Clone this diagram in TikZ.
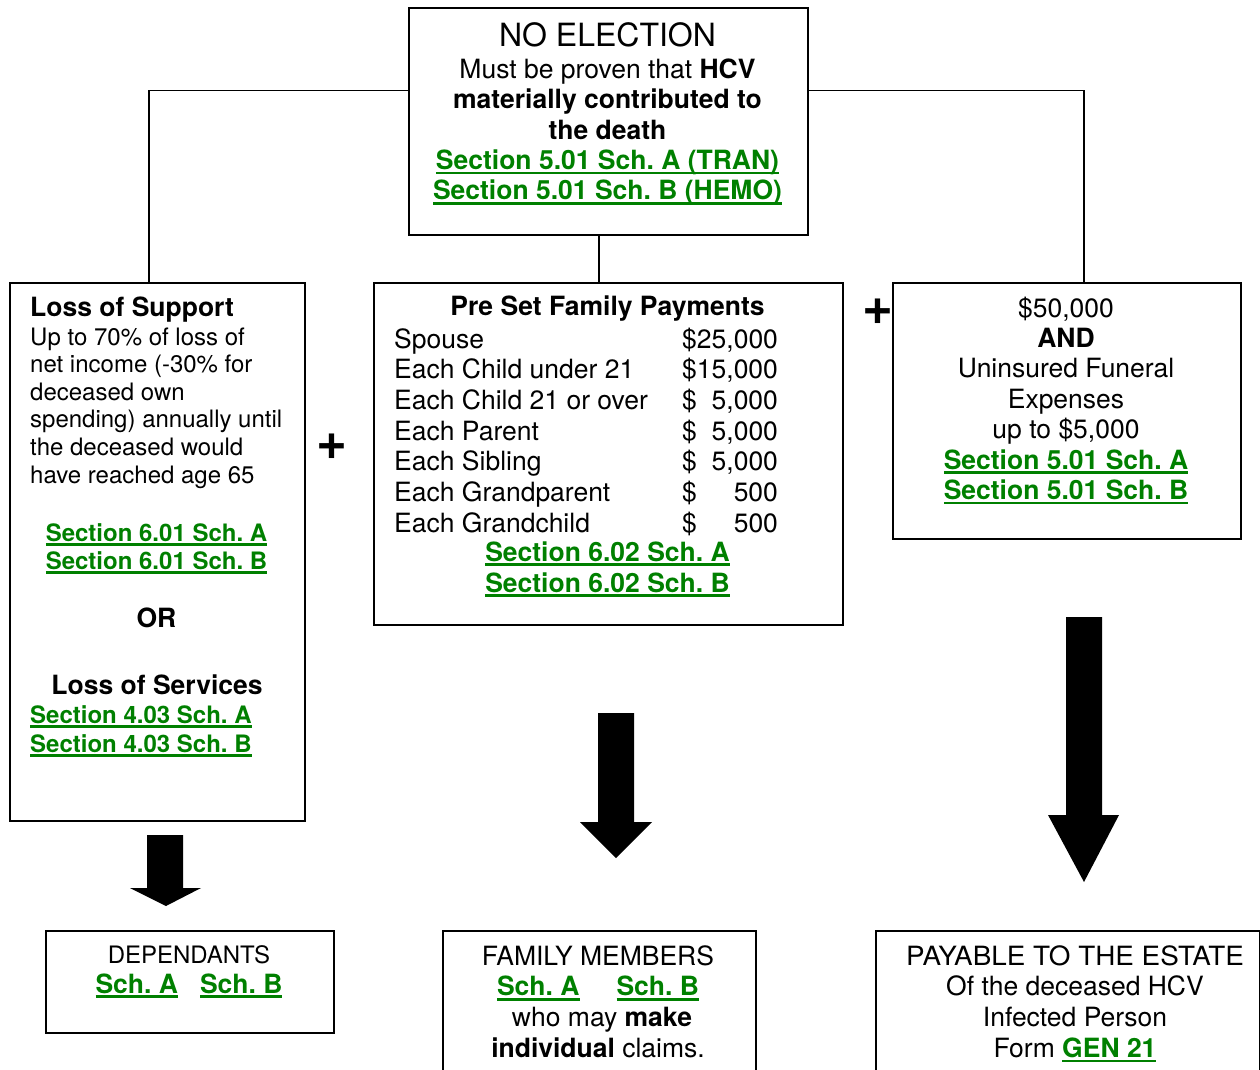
\documentclass[tikz,border=0pt]{standalone}
\usepackage{fontspec}
\setmainfont{TeX Gyre Heros}
\usepackage{xcolor}
\usepackage{graphicx}
\frenchspacing
\definecolor{lgreen}{RGB}{0,128,0}
\newcommand\grn[1]{{\color{lgreen}\bfseries\setbox0=\hbox{#1}\rlap{\rule[-5pt]{\wd0}{2.6pt}}\box0}}
\newcommand\fs[2]{\fontsize{#1}{#2}\selectfont}
\begin{document}
\begin{tikzpicture}[x=1pt,y=-1pt,
  box/.style={draw,line width=1.6pt,inner sep=0pt,anchor=north west},
  txt/.style={inner sep=0pt,anchor=base},
  txtl/.style={inner sep=0pt,anchor=base west},
  plussign/.style={inner sep=0pt,font=\fs{53}{53}\bfseries},
  conn/.style={line width=1.4pt},
  blockarrow/.style={fill=black}]
\useasboundingbox (0,0) rectangle (1260,1070);
% boxes
\node[box,minimum width=399,minimum height=227] (top) at (408,7) {};
\node[box,minimum width=295,minimum height=538] (loss) at (9,282) {};
\node[box,minimum width=469,minimum height=342] (pre) at (373,282) {};
\node[box,minimum width=348,minimum height=256] (fun) at (892,282) {};
\node[box,minimum width=288,minimum height=102] (dep) at (45,930) {};
\node[box,minimum width=313,minimum height=150] (fam) at (442,930) {};
\node[box,minimum width=384,minimum height=150] (est) at (875,930) {};
% top text
\node[txt,font=\fs{32}{36}] (t0) at (607.5,47) {NO ELECTION};
\node[txt] (t1) at (607.5,78.5) {\fs{26.5}{30.3}\begin{tabular}[t]{@{}c@{}}Must be proven that \textbf{HCV}\\ \textbf{materially contributed to}\\ \textbf{the death}\\ \grn{Section 5.01 Sch. A (TRAN)}\\ \grn{Section 5.01 Sch. B (HEMO)}\end{tabular}};
% left text
\node[txtl,font=\fs{26.5}{30}\bfseries] (l0) at (30,316) {Loss of Support};
\node[txtl] (l1) at (30,345) {\fs{24}{27.6}\begin{tabular}[t]{@{}l@{}}Up to 70\% of loss of\\ net income (-30\% for\\ deceased own\\ spending) annually until\\ the deceased would\\ have reached age 65\end{tabular}};
\node[txt] (l2) at (156.5,541) {\fs{24}{28}\begin{tabular}[t]{@{}c@{}}\grn{Section 6.01 Sch. A}\\ \grn{Section 6.01 Sch. B}\end{tabular}};
\node[txt,font=\fs{26.5}{30}\bfseries] (l3) at (156.5,627) {OR};
\node[txt,font=\fs{26.5}{30}\bfseries] (l4) at (157,694) {Loss of Services};
\node[txtl] (l5) at (30,723) {\fs{24}{29}\begin{tabular}[t]{@{}l@{}}\grn{Section 4.03 Sch. A}\\ \grn{Section 4.03 Sch. B}\end{tabular}};
% middle text
\node[txt,font=\fs{26.5}{30}\bfseries] (m0) at (607.5,315) {Pre Set Family Payments};
\node[txtl] (m1) at (394,348) {\fs{26.5}{30.7}\begin{tabular}[t]{@{}l@{}l@{}r@{}}\makebox[288pt][l]{Spouse} & \$ & 25,000\\ Each Child under 21 & \$ & 15,000\\ Each Child 21 or over & \$ & 5,000\\ Each Parent & \$ & 5,000\\ Each Sibling & \$ & 5,000\\ Each Grandparent & \$ & 500\\ Each Grandchild & \$ & 500\end{tabular}};
\node[txt] (m2) at (607.5,561) {\fs{26.5}{31}\begin{tabular}[t]{@{}c@{}}\grn{Section 6.02 Sch. A}\\ \grn{Section 6.02 Sch. B}\end{tabular}};
% right text
\node[txt] (r1) at (1066,317) {\fs{26.5}{30.4}\begin{tabular}[t]{@{}c@{}}\$50,000\\ \textbf{AND}\\ Uninsured Funeral\\ Expenses\\ up to \$5,000\\ \grn{Section 5.01 Sch. A}\\ \grn{Section 5.01 Sch. B}\end{tabular}};
% bottom text
\node[txt] (b1) at (189,963) {\fs{26.5}{30}\begin{tabular}[t]{@{}c@{}}{\fs{24}{30}DEPENDANTS}\\ \grn{Sch. A}\hspace{22pt}\grn{Sch. B}\end{tabular}};
\node[txt] (b2) at (598,965) {\fs{26.5}{30.7}\begin{tabular}[t]{@{}c@{}}FAMILY MEMBERS\\ \grn{Sch. A}\hspace{37pt}\grn{Sch. B}\\ \hspace{8pt}who may \textbf{make}\\ \textbf{individual} claims.\end{tabular}};
\node[txt] (b3) at (1075,965) {\fs{26.5}{30.7}\begin{tabular}[t]{@{}c@{}}\scalebox{1.05}[1]{PAYABLE TO THE ESTATE}\\ Of the deceased HCV\\ Infected Person\\ Form \grn{GEN 21}\end{tabular}};
% plus signs
\node[plussign] (p1) at (331.5,446.5) {+};
\node[plussign] (p2) at (878,311.5) {+};
% connectors
\draw[conn] ([yshift=30.5pt]top.west) -| ([xshift=-8.5pt]loss.north);
\draw[conn] ([yshift=30.5pt]top.east) -| ([xshift=17pt]fun.north);
\draw[conn] ([xshift=-9.5pt]top.south) -- ([xshift=-9.5pt]pre.north);
% block arrows
\fill[blockarrow] (147,835) -- (183,835) -- (183,888) -- (201,888) -- (166,906) -- (130,888) -- (147,888) -- cycle;
\fill[blockarrow] (598,713) -- (634,713) -- (634,822) -- (652,822) -- (616,858) -- (580,822) -- (598,822) -- cycle;
\fill[blockarrow] (1066,617) -- (1102,617) -- (1102,815) -- (1119,815) -- (1084,882) -- (1048,815) -- (1066,815) -- cycle;
\end{tikzpicture}
\end{document}
